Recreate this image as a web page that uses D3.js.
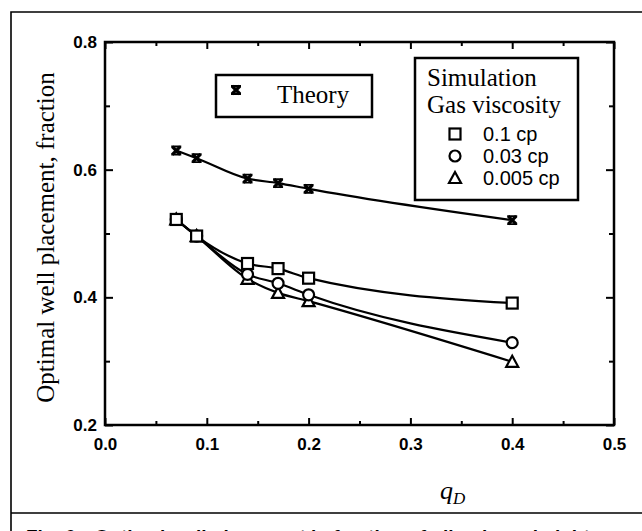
<!DOCTYPE html>
<html>
<head>
<meta charset="utf-8">
<script src="https://cdn.jsdelivr.net/npm/d3@7"></script>
<style>
  body { margin: 0; background: #fff; }
  svg { display: block; }
</style>
</head>
<body>
<div id="chart"></div>
<script>
// values
const qD = [0.07, 0.09, 0.14, 0.17, 0.20, 0.40];
const theory = [0.630, 0.618, 0.586, 0.579, 0.570, 0.521];
const visc01 = [0.522, 0.496, 0.453, 0.445, 0.430, 0.391];
const visc003 = [0.522, 0.496, 0.436, 0.422, 0.404, 0.329];
const visc0005 = [0.522, 0.496, 0.429, 0.407, 0.394, 0.299];
const simLabels = ["0.1 cp", "0.03 cp", "0.005 cp"];
const xTicks = [0.0, 0.1, 0.2, 0.3, 0.4, 0.5];
const xMinor = [0.05, 0.15, 0.25, 0.35, 0.45];
const yTicks = [0.2, 0.4, 0.6, 0.8];
const yMinor = [0.3, 0.5, 0.7];

const W = 642, H = 531;
const svg = d3.select("#chart").append("svg")
    .attr("width", W)
    .attr("height", H);

// outer figure frame and caption separator
svg.append("path")
    .attr("d", "M11,531V12H642M11,513H642")
    .attr("fill", "none")
    .attr("stroke", "#000")
    .attr("stroke-width", 1.6);

// caption, cut by the bottom edge as in the scan
svg.append("text")
    .attr("x", 26)
    .attr("y", 543)
    .attr("font-family", "Liberation Sans, Arial, sans-serif")
    .attr("font-weight", "bold")
    .attr("font-size", 19)
    .text("Fig. 6\u2014Optimal well placement in fraction of oil-column height");

const x = d3.scaleLinear().domain([0, 0.5]).range([105, 614]);
const y = d3.scaleLinear().domain([0.2, 0.8]).range([425, 42]);

const axisFont = "Liberation Sans, Arial, sans-serif";

// bottom axis with labels, ticks pointing in
const gx = svg.append("g")
    .attr("transform", `translate(0,${y(0.2)})`)
    .call(d3.axisBottom(x).tickValues(xTicks).tickSize(-7).tickSizeOuter(0).tickPadding(13)
        .tickFormat(d3.format(".1f")));
gx.append("g").call(d3.axisBottom(x).tickValues(xMinor).tickSize(-4).tickFormat(""));

const gxTop = svg.append("g")
    .attr("transform", `translate(0,${y(0.8)})`)
    .call(d3.axisTop(x).tickValues(xTicks).tickSize(-7).tickSizeOuter(0).tickFormat(""));
gxTop.append("g").call(d3.axisTop(x).tickValues(xMinor).tickSize(-4).tickFormat(""));

const gy = svg.append("g")
    .attr("transform", `translate(${x(0)},0)`)
    .call(d3.axisLeft(y).tickValues(yTicks).tickSize(-8).tickSizeOuter(0).tickPadding(8)
        .tickFormat(d3.format(".1f")));
gy.append("g").call(d3.axisLeft(y).tickValues(yMinor).tickSize(-5).tickFormat(""));

const gyRight = svg.append("g")
    .attr("transform", `translate(${x(0.5)},0)`)
    .call(d3.axisRight(y).tickValues(yTicks).tickSize(-8).tickSizeOuter(0).tickFormat(""));
gyRight.append("g").call(d3.axisRight(y).tickValues(yMinor).tickSize(-5).tickFormat(""));

svg.selectAll(".domain").remove();
svg.selectAll(".tick line").attr("stroke", "#000").attr("stroke-width", 2);
svg.selectAll(".tick text")
    .attr("font-family", axisFont)
    .attr("font-size", 17)
    .attr("font-weight", "bold")
    .attr("fill", "#000");

// plot box
svg.append("rect")
    .attr("x", x(0))
    .attr("y", y(0.8))
    .attr("width", x(0.5) - x(0))
    .attr("height", y(0.2) - y(0.8))
    .attr("fill", "none")
    .attr("stroke", "#000")
    .attr("stroke-width", 2.5);

// axis titles
svg.append("text")
    .attr("transform", `translate(54,${(y(0.2) + y(0.8)) / 2 + 4}) rotate(-90)`)
    .attr("text-anchor", "middle")
    .attr("font-family", "Liberation Serif, Times New Roman, serif")
    .attr("font-size", 25)
    .text("Optimal well placement, fraction");

const qLabel = svg.append("text")
    .attr("x", 440)
    .attr("y", 499)
    .attr("font-family", "Liberation Serif, Times New Roman, serif")
    .attr("font-style", "italic")
    .attr("font-size", 26);
qLabel.append("tspan").text("q");
qLabel.append("tspan").attr("font-size", 17).attr("dy", 5).text("D");

// curves
const line = d3.line()
    .x((d, i) => x(qD[i]))
    .y(d => y(d))
    .curve(d3.curveMonotoneX);

const series = [
    { values: theory, marker: "x" },
    { values: visc01, marker: "square" },
    { values: visc003, marker: "circle" },
    { values: visc0005, marker: "triangle" }
];

svg.selectAll("path.curve")
    .data(series)
    .enter().append("path")
    .attr("class", "curve")
    .attr("d", d => line(d.values))
    .attr("fill", "none")
    .attr("stroke", "#000")
    .attr("stroke-width", 2.2);

function drawMarker(g, type, cx, cy) {
    if (type === "x") {
        g.append("path")
            .attr("d", `M${cx - 4},${cy - 4}L${cx + 4},${cy + 4}M${cx + 4},${cy - 4}L${cx - 4},${cy + 4}`)
            .attr("stroke", "#000").attr("stroke-width", 3.2);
        g.append("path")
            .attr("d", `M${cx - 5},${cy - 4}H${cx + 5}M${cx - 5},${cy + 4}H${cx + 5}`)
            .attr("stroke", "#000").attr("stroke-width", 1.8);
    } else if (type === "square") {
        g.append("rect")
            .attr("x", cx - 5.5).attr("y", cy - 5.5)
            .attr("width", 11).attr("height", 11)
            .attr("fill", "#fff").attr("stroke", "#000").attr("stroke-width", 2.2);
    } else if (type === "circle") {
        g.append("circle")
            .attr("cx", cx).attr("cy", cy).attr("r", 5.5)
            .attr("fill", "#fff").attr("stroke", "#000").attr("stroke-width", 2.2);
    } else {
        g.append("path")
            .attr("d", `M${cx},${cy - 6}L${cx + 6},${cy + 5}L${cx - 6},${cy + 5}Z`)
            .attr("fill", "#fff").attr("stroke", "#000").attr("stroke-width", 2.2)
            .attr("stroke-linejoin", "miter");
    }
}

const markers = svg.append("g");
series.slice().reverse().forEach(s => {
    s.values.forEach((v, i) => drawMarker(markers, s.marker, x(qD[i]), y(v)));
});

// Theory legend
svg.append("rect")
    .attr("x", 216).attr("y", 75)
    .attr("width", 156).attr("height", 42)
    .attr("fill", "#fff").attr("stroke", "#000").attr("stroke-width", 2.5);
drawMarker(svg.append("g"), "x", 236, 90);
svg.append("text")
    .attr("x", 277).attr("y", 103)
    .attr("font-family", "Liberation Serif, Times New Roman, serif")
    .attr("font-size", 25)
    .text("Theory");

// Simulation legend
svg.append("rect")
    .attr("x", 415).attr("y", 58)
    .attr("width", 163).attr("height", 142)
    .attr("fill", "#fff").attr("stroke", "#000").attr("stroke-width", 2.5);
svg.append("text")
    .attr("x", 427).attr("y", 86)
    .attr("font-family", "Liberation Serif, Times New Roman, serif")
    .attr("font-size", 25)
    .text("Simulation");
svg.append("text")
    .attr("x", 427).attr("y", 113)
    .attr("font-family", "Liberation Serif, Times New Roman, serif")
    .attr("font-size", 25)
    .text("Gas viscosity");

const rowY = [134, 156, 178];
series.slice(1).forEach((s, i) => {
    drawMarker(svg.append("g"), s.marker, 455, rowY[i]);
    svg.append("text")
        .attr("x", 483).attr("y", rowY[i] + 7)
        .attr("font-family", axisFont)
        .attr("font-size", 20)
        .text(simLabels[i]);
});
</script>
</body>
</html>
